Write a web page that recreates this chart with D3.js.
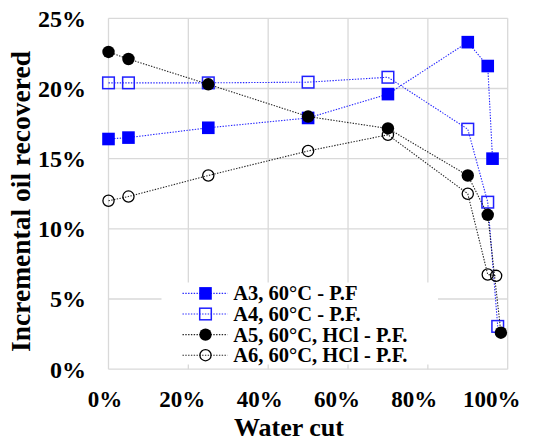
<!DOCTYPE html>
<html>
<head>
<meta charset="utf-8">
<script src="https://cdn.jsdelivr.net/npm/d3@7"></script>
<style>
  html, body { margin: 0; padding: 0; background: #fff; }
  svg { display: block; }
</style>
</head>
<body>
<svg id="chart" width="539" height="441"></svg>
<script>
// Water cut (%) and incremental oil recovered (%) for each test
const a3X = [0, 5, 25, 50, 70, 90, 95, 96.2];
const a3Y = [16.4, 16.5, 17.2, 17.9, 19.6, 23.3, 21.6, 15.0];
const a4X = [0, 5, 25, 50, 70, 90, 95, 97.5];
const a4Y = [20.4, 20.4, 20.4, 20.45, 20.8, 17.1, 11.9, 3.05];
const a5X = [0, 5, 25, 50, 70, 90, 95, 98.3];
const a5Y = [22.6, 22.1, 20.3, 18.0, 17.15, 13.8, 11.0, 2.6];
const a6X = [0, 5, 25, 50, 70, 90, 95, 97.1];
const a6Y = [12.0, 12.3, 13.8, 15.55, 16.7, 12.5, 6.75, 6.65];

const seriesNames = ["A3, 60°C - P.F", "A4, 60°C - P.F.", "A5, 60°C, HCl - P.F.", "A6, 60°C, HCl - P.F."];
const xTicks = [0, 20, 40, 60, 80, 100];
const yTicks = [0, 5, 10, 15, 20, 25];
const xTitle = "Water cut";
const yTitle = "Incremental oil recovered";

const FONT = "'Liberation Serif', Tinos, 'Times New Roman', Times, 'DejaVu Serif', serif";

const svg = d3.select("#chart")
  .attr("font-family", FONT)
  .attr("font-weight", "bold");

const plot = { left: 108.5, right: 507.7, top: 18.3, bottom: 369.2 };
const x = d3.scaleLinear().domain([0, 100]).range([plot.left, plot.right]);
const y = d3.scaleLinear().domain([0, 25]).range([plot.bottom, plot.top]);
// tick labels sit on a slightly narrower span than the gridlines
const xLab = d3.scaleLinear().domain([0, 100]).range([105, 491.7]);

const gridColor = "#d9d9d9";

// gridlines
const grid = svg.append("g");
grid.selectAll("line.v").data(xTicks).join("line")
  .attr("x1", d => x(d)).attr("x2", d => x(d))
  .attr("y1", plot.top).attr("y2", plot.bottom)
  .attr("stroke", gridColor).attr("stroke-width", 1.3);
grid.selectAll("line.h").data(yTicks).join("line")
  .attr("x1", plot.left).attr("x2", plot.right)
  .attr("y1", d => y(d)).attr("y2", d => y(d))
  .attr("stroke", gridColor).attr("stroke-width", 1.3);

function label(sel) {
  return sel.attr("font-family", FONT).attr("font-weight", "bold").attr("fill", "#000");
}

// axis tick labels
svg.append("g").selectAll("text").data(yTicks).join("text")
  .call(label)
  .attr("x", 86).attr("y", d => y(d) + 8.4)
  .attr("text-anchor", "end").attr("font-size", 24)
  .text(d => d + "%");
svg.append("g").selectAll("text").data(xTicks).join("text")
  .call(label)
  .attr("x", d => xLab(d)).attr("y", 406.6)
  .attr("text-anchor", "middle").attr("font-size", 23)
  .text(d => d + "%");

// axis titles
svg.append("text").call(label)
  .attr("x", 289).attr("y", 435.8)
  .attr("text-anchor", "middle").attr("font-size", 26)
  .text(xTitle);
svg.append("text").call(label)
  .attr("transform", "translate(30,201.5) rotate(-90)")
  .attr("text-anchor", "middle").attr("font-size", 27.5)
  .text(yTitle);

const series = [
  { name: seriesNames[0], xs: a3X, ys: a3Y, color: "#0000ff", shape: "square", filled: true },
  { name: seriesNames[1], xs: a4X, ys: a4Y, color: "#0000ff", shape: "square", filled: false },
  { name: seriesNames[2], xs: a5X, ys: a5Y, color: "#000000", shape: "circle", filled: true },
  { name: seriesNames[3], xs: a6X, ys: a6Y, color: "#000000", shape: "circle", filled: false }
];

function drawMarker(g, s, cx, cy) {
  if (s.shape === "square") {
    const sz = s.filled ? 12.6 : 11.6;
    g.append("rect")
      .attr("x", cx - sz / 2).attr("y", cy - sz / 2)
      .attr("width", sz).attr("height", sz)
      .attr("fill", s.filled ? s.color : "none")
      .attr("stroke", s.filled ? "none" : "#2020ff")
      .attr("stroke-width", s.filled ? 0 : 1.5);
  } else {
    g.append("circle")
      .attr("cx", cx).attr("cy", cy)
      .attr("r", s.filled ? 6.2 : 5.6)
      .attr("fill", s.filled ? s.color : "none")
      .attr("stroke", s.color)
      .attr("stroke-width", s.filled ? 0 : 1.3);
  }
}

const line = d3.line().x(d => x(d[0])).y(d => y(d[1]));

series.forEach(s => {
  const pts = s.xs.map((v, i) => [v, s.ys[i]]);
  const g = svg.append("g");
  g.append("path")
    .attr("d", line(pts))
    .attr("fill", "none")
    .attr("stroke", s.color)
    .attr("stroke-opacity", 0.85)
    .attr("stroke-width", 1.1)
    .attr("stroke-dasharray", "1.4 1.4");
  pts.forEach(p => drawMarker(g, s, x(p[0]), y(p[1])));
});

// legend
const legend = svg.append("g");
legend.append("rect")
  .attr("x", 161.5).attr("y", 282.5)
  .attr("width", 276.5).attr("height", 82)
  .attr("fill", "#fff");
series.forEach((s, i) => {
  const cy = 293.4 + i * 20.6;
  legend.append("line")
    .attr("x1", 182.5).attr("x2", 227.5)
    .attr("y1", cy).attr("y2", cy)
    .attr("stroke", s.color)
    .attr("stroke-opacity", 0.85)
    .attr("stroke-width", 1.1)
    .attr("stroke-dasharray", "1.4 1.4");
  drawMarker(legend, s, 205.5, cy);
  legend.append("text").call(label)
    .attr("x", 233.3).attr("y", cy + 7)
    .attr("font-size", 20.5)
    .text(s.name);
});
</script>
</body>
</html>
